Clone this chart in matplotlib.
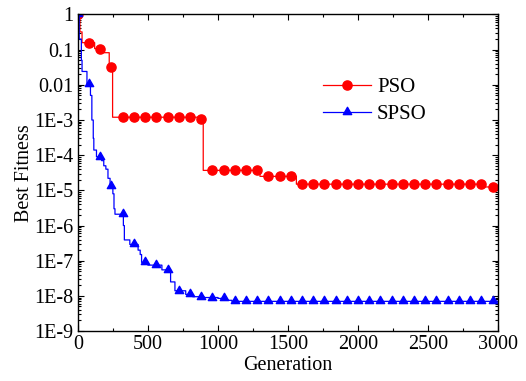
import numpy as np
import matplotlib
matplotlib.use("Agg")
import matplotlib.pyplot as plt
from matplotlib.path import Path
from matplotlib.ticker import LogLocator, FixedLocator, FixedFormatter, MultipleLocator, NullFormatter

# step change points: (generation where value changes, best fitness)
pso_gen = [0, 15, 30, 120, 188, 224, 248, 860, 895, 1300, 1560, 2900]
pso_val = [1.0, 0.32, 0.158, 0.107, 0.082, 0.032, 1.2e-3, 1.05e-3, 3.7e-5, 2.5e-5, 1.5e-5, 1.25e-5]

spso_gen = [0, 10, 25, 30, 65, 90, 100, 110, 114, 133, 170, 185, 200, 215, 230,
            250, 258, 265, 325, 332, 371, 430, 445, 455, 500, 600, 662, 693,
            770, 820, 900, 1000, 1060, 1100]
spso_val = [1.0, 0.2, 0.05, 0.024, 0.0105, 5e-3, 1e-3, 3e-4, 1.4e-4, 9e-5, 7e-5, 5e-5, 4e-5, 2.2e-5, 1.3e-5,
            8e-6, 3e-6, 2.1e-6, 1e-6, 3.9e-7, 2.9e-7, 2e-7, 1.5e-7, 9e-8, 7.5e-8, 5.5e-8, 2.5e-8, 1.4e-8,
            1.1e-8, 9.5e-9, 9e-9, 8.5e-9, 7.5e-9, 7e-9]

last_gen = 3000
mark_every = 80

ytick_vals = [1, 0.1, 0.01, 1e-3, 1e-4, 1e-5, 1e-6, 1e-7, 1e-8, 1e-9]
ytick_labels = ["1", "0.1", "0.01", "1E-3", "1E-4", "1E-5", "1E-6", "1E-7", "1E-8", "1E-9"]


def expand(gens, vals):
    # hold each value until the next change point, one entry per generation
    lengths = np.diff(gens + [last_gen + 1])
    return np.arange(last_gen + 1), np.repeat(vals, lengths)


plt.rcParams["font.family"] = ["Liberation Serif", "DejaVu Serif"]

fig = plt.figure(figsize=(5.26, 3.81), dpi=100)
ax = fig.add_axes([0.148, 0.131, 0.799, 0.831])

# triangle with its base close to the line, like the original plotting program
tri = Path([(0, 1), (-0.8, -0.4), (0.8, -0.4), (0, 1)],
           [Path.MOVETO, Path.LINETO, Path.LINETO, Path.CLOSEPOLY])

x, y = expand(pso_gen, pso_val)
ax.plot(x, y, color="#ff0000", lw=0.9, drawstyle="steps-post",
        marker="o", ms=6.6, markevery=mark_every, label="PSO")
x, y = expand(spso_gen, spso_val)
ax.plot(x, y, color="#0000ff", lw=0.9, drawstyle="steps-post",
        marker=tri, ms=7.5, markevery=mark_every, label="SPSO")

ax.set_yscale("log")
ax.set_xlim(0, 3000)
ax.set_ylim(1e-9, 1)
ax.xaxis.set_major_locator(MultipleLocator(500))
ax.xaxis.set_minor_locator(MultipleLocator(250))
ax.yaxis.set_major_locator(FixedLocator(ytick_vals))
ax.yaxis.set_major_formatter(FixedFormatter(ytick_labels))
ax.yaxis.set_minor_locator(LogLocator(base=10, subs=np.arange(2, 10), numticks=20))
ax.yaxis.set_minor_formatter(NullFormatter())

ax.tick_params(which="both", direction="in", top=True, right=True, labelsize=14.5, width=0.8)
ax.tick_params(which="major", length=4)
ax.tick_params(which="minor", length=2.2)
ax.tick_params(axis="x", pad=3)
ax.tick_params(axis="y", pad=3)
for s in ax.spines.values():
    s.set_linewidth(1.0)

ax.set_xlabel("Generation", fontsize=14.5, labelpad=1)
ax.set_ylabel("Best Fitness", fontsize=14.5, labelpad=0)

ax.legend(loc="upper left", bbox_to_anchor=(0.583, 0.80), frameon=False,
          fontsize=15, handlelength=2.3, handletextpad=0.3, labelspacing=0.35,
          borderaxespad=0, borderpad=0)

fig.savefig("out.png", dpi=100)
